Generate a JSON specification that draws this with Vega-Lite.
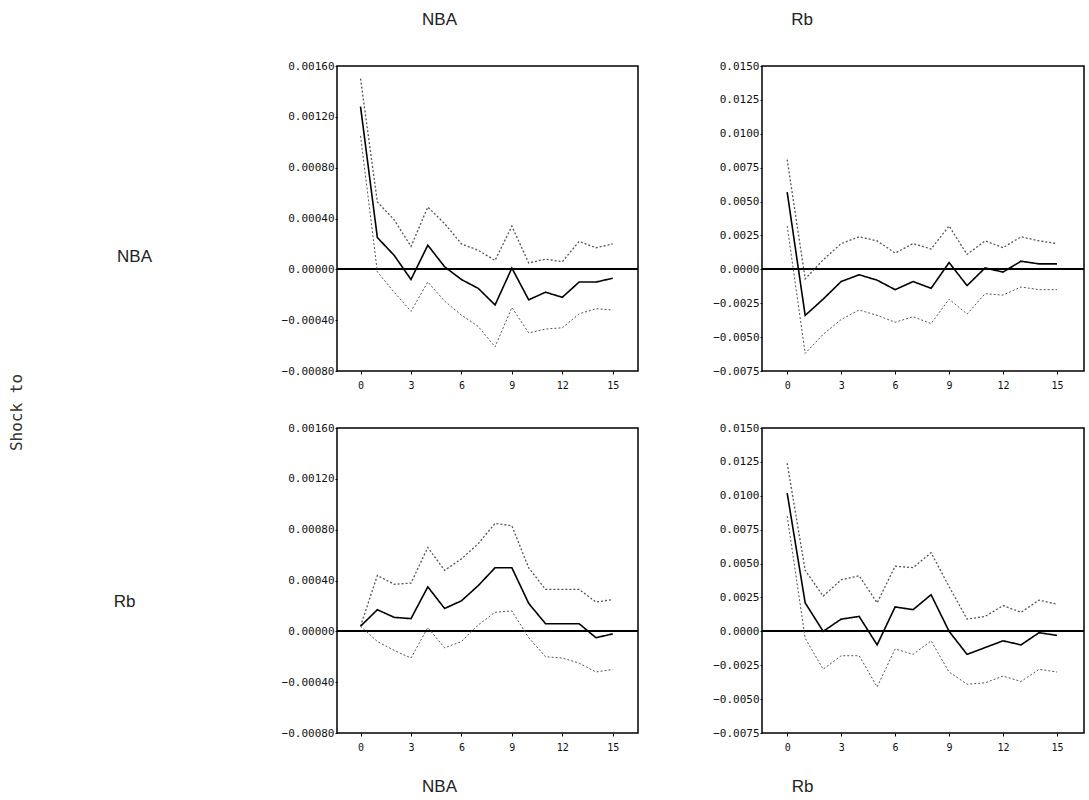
{
  "$schema": "https://vega.github.io/schema/vega-lite/v6.json",
  "background": "white",
  "autosize": {"type": "pad"},
  "padding": {"left": 9, "top": 10, "right": 0, "bottom": 0},
  "bounds": "flush",
  "columns": 2,
  "spacing": {"row": 57, "column": 124},
  "title": {"text": "Shock to", "orient": "left", "anchor": "middle", "offset": 87, "dx": -10, "font": "DejaVu Sans Mono", "fontSize": 16, "fontWeight": "normal", "color": "#333"},
  "config": {
    "view": {"stroke": "#000", "strokeWidth": 1.5},
    "axis": {"grid": false, "domain": false, "labelFont": "DejaVu Sans Mono", "labelFontSize": 11, "labelColor": "#111", "labelOverlap": false, "tickColor": "#000", "tickSize": 3, "titleFont": "Liberation Sans", "titleFontWeight": "normal", "titleFontSize": 17, "titleColor": "#222"},
    "title": {"font": "Liberation Sans", "fontSize": 17, "fontWeight": "normal", "color": "#222"}
  },
  "datasets": {
    "tl": [
      {"p": 0, "mid": 0.00128, "up": 0.00150, "lo": 0.00105},
      {"p": 1, "mid": 0.00025, "up": 0.00053, "lo": -0.00002},
      {"p": 2, "mid": 0.00011, "up": 0.00039, "lo": -0.00018},
      {"p": 3, "mid": -0.00008, "up": 0.00018, "lo": -0.00033},
      {"p": 4, "mid": 0.00019, "up": 0.00049, "lo": -0.00010},
      {"p": 5, "mid": 0.00002, "up": 0.00036, "lo": -0.00025},
      {"p": 6, "mid": -0.00008, "up": 0.00020, "lo": -0.00036},
      {"p": 7, "mid": -0.00015, "up": 0.00015, "lo": -0.00045},
      {"p": 8, "mid": -0.00028, "up": 0.00007, "lo": -0.00061},
      {"p": 9, "mid": 0.00001, "up": 0.00034, "lo": -0.00030},
      {"p": 10, "mid": -0.00024, "up": 0.00005, "lo": -0.00050},
      {"p": 11, "mid": -0.00018, "up": 0.00008, "lo": -0.00047},
      {"p": 12, "mid": -0.00022, "up": 0.00006, "lo": -0.00046},
      {"p": 13, "mid": -0.00010, "up": 0.00022, "lo": -0.00035},
      {"p": 14, "mid": -0.00010, "up": 0.00017, "lo": -0.00031},
      {"p": 15, "mid": -0.00007, "up": 0.00020, "lo": -0.00032}
    ],
    "tr": [
      {"p": 0, "mid": 0.0057, "up": 0.0081, "lo": 0.0032},
      {"p": 1, "mid": -0.0034, "up": -0.0007, "lo": -0.0062},
      {"p": 2, "mid": -0.0022, "up": 0.0007, "lo": -0.0048},
      {"p": 3, "mid": -0.0009, "up": 0.0019, "lo": -0.0037},
      {"p": 4, "mid": -0.0004, "up": 0.0024, "lo": -0.0030},
      {"p": 5, "mid": -0.0008, "up": 0.0021, "lo": -0.0034},
      {"p": 6, "mid": -0.0015, "up": 0.0012, "lo": -0.0039},
      {"p": 7, "mid": -0.0009, "up": 0.0019, "lo": -0.0035},
      {"p": 8, "mid": -0.0014, "up": 0.0015, "lo": -0.0040},
      {"p": 9, "mid": 0.0005, "up": 0.0032, "lo": -0.0022},
      {"p": 10, "mid": -0.0012, "up": 0.0011, "lo": -0.0033},
      {"p": 11, "mid": 0.0001, "up": 0.0021, "lo": -0.0018},
      {"p": 12, "mid": -0.0002, "up": 0.0016, "lo": -0.0019},
      {"p": 13, "mid": 0.0006, "up": 0.0024, "lo": -0.0013},
      {"p": 14, "mid": 0.0004, "up": 0.0021, "lo": -0.0015},
      {"p": 15, "mid": 0.0004, "up": 0.0019, "lo": -0.0015}
    ],
    "bl": [
      {"p": 0, "mid": 0.00004, "up": 0.00004, "lo": 0.00004},
      {"p": 1, "mid": 0.00017, "up": 0.00044, "lo": -0.00008},
      {"p": 2, "mid": 0.00011, "up": 0.00037, "lo": -0.00015},
      {"p": 3, "mid": 0.00010, "up": 0.00038, "lo": -0.00021},
      {"p": 4, "mid": 0.00035, "up": 0.00066, "lo": 0.00003},
      {"p": 5, "mid": 0.00018, "up": 0.00048, "lo": -0.00013},
      {"p": 6, "mid": 0.00024, "up": 0.00057, "lo": -0.00008},
      {"p": 7, "mid": 0.00036, "up": 0.00069, "lo": 0.00005},
      {"p": 8, "mid": 0.00050, "up": 0.00085, "lo": 0.00015},
      {"p": 9, "mid": 0.00050, "up": 0.00083, "lo": 0.00016},
      {"p": 10, "mid": 0.00022, "up": 0.00050, "lo": -0.00005},
      {"p": 11, "mid": 0.00006, "up": 0.00033, "lo": -0.00020},
      {"p": 12, "mid": 0.00006, "up": 0.00033, "lo": -0.00021},
      {"p": 13, "mid": 0.00006, "up": 0.00033, "lo": -0.00025},
      {"p": 14, "mid": -0.00005, "up": 0.00023, "lo": -0.00032},
      {"p": 15, "mid": -0.00002, "up": 0.00025, "lo": -0.00030}
    ],
    "br": [
      {"p": 0, "mid": 0.0102, "up": 0.0124, "lo": 0.0085},
      {"p": 1, "mid": 0.0021, "up": 0.0045, "lo": -0.0005},
      {"p": 2, "mid": 0.0000, "up": 0.0026, "lo": -0.0028},
      {"p": 3, "mid": 0.0009, "up": 0.0038, "lo": -0.0018},
      {"p": 4, "mid": 0.0011, "up": 0.0041, "lo": -0.0018},
      {"p": 5, "mid": -0.0010, "up": 0.0021, "lo": -0.0041},
      {"p": 6, "mid": 0.0018, "up": 0.0048, "lo": -0.0013},
      {"p": 7, "mid": 0.0016, "up": 0.0047, "lo": -0.0017},
      {"p": 8, "mid": 0.0027, "up": 0.0058, "lo": -0.0007},
      {"p": 9, "mid": 0.0000, "up": 0.0033, "lo": -0.0030},
      {"p": 10, "mid": -0.0017, "up": 0.0009, "lo": -0.0039},
      {"p": 11, "mid": -0.0012, "up": 0.0011, "lo": -0.0038},
      {"p": 12, "mid": -0.0007, "up": 0.0019, "lo": -0.0033},
      {"p": 13, "mid": -0.0010, "up": 0.0014, "lo": -0.0037},
      {"p": 14, "mid": -0.0001, "up": 0.0023, "lo": -0.0028},
      {"p": 15, "mid": -0.0003, "up": 0.0020, "lo": -0.0030}
    ]
  },
  "concat": [
    {
      "width": 301, "height": 305,
      "title": {"text": "NBA", "frame": "group", "offset": 31, "dx": -48},
      "data": {"name": "tl"},
      "layer": [
        {"mark": {"type": "rule", "color": "#000", "strokeWidth": 1.5}, "encoding": {"y": {"datum": 0, "type": "quantitative"}}},
        {
          "transform": [{"fold": ["up", "mid", "lo"], "as": ["s", "v"]}],
          "mark": {"type": "line"},
          "encoding": {
            "x": {"field": "p", "type": "quantitative", "scale": {"domain": [-1.4, 16.5], "nice": false, "zero": false}, "axis": {"values": [0, 3, 6, 9, 12, 15], "tickCount": 20, "format": "d", "title": null, "labelPadding": 6, "labelFontSize": 10, "labelOverlap": false}},
            "y": {"field": "v", "type": "quantitative", "scale": {"domain": [-0.0008, 0.0016], "nice": false, "zero": false}, "axis": {"values": [-0.0008, -0.0004, 0, 0.0004, 0.0008, 0.0012, 0.0016], "tickCount": 20, "format": ".5f", "title": "NBA", "titleAngle": 0, "titleX": -203, "titleY": 190, "titleAlign": "center", "titleBaseline": "middle", "labelPadding": 1, "tickSize": 2, "labelOverlap": false}},
            "detail": {"field": "s"},
            "color": {"field": "s", "type": "nominal", "scale": {"domain": ["mid", "up", "lo"], "range": ["#000000", "#555555", "#555555"]}, "legend": null},
            "strokeDash": {"field": "s", "type": "nominal", "scale": {"domain": ["mid", "up", "lo"], "range": [[1, 0], [2, 2], [2, 2]]}, "legend": null},
            "strokeWidth": {"field": "s", "type": "nominal", "scale": {"domain": ["mid", "up", "lo"], "range": [1.6, 1, 1]}, "legend": null}
          }
        }
      ]
    },
    {
      "width": 322, "height": 305,
      "title": {"text": "Rb", "frame": "group", "offset": 31, "dx": -121},
      "data": {"name": "tr"},
      "layer": [
        {"mark": {"type": "rule", "color": "#000", "strokeWidth": 1.5}, "encoding": {"y": {"datum": 0, "type": "quantitative"}}},
        {
          "transform": [{"fold": ["up", "mid", "lo"], "as": ["s", "v"]}],
          "mark": {"type": "line"},
          "encoding": {
            "x": {"field": "p", "type": "quantitative", "scale": {"domain": [-1.4, 16.5], "nice": false, "zero": false}, "axis": {"values": [0, 3, 6, 9, 12, 15], "tickCount": 20, "format": "d", "title": null, "labelPadding": 6, "labelFontSize": 10, "labelOverlap": false}},
            "y": {"field": "v", "type": "quantitative", "scale": {"domain": [-0.0075, 0.015], "nice": false, "zero": false}, "axis": {"values": [-0.0075, -0.005, -0.0025, 0, 0.0025, 0.005, 0.0075, 0.01, 0.0125, 0.015], "tickCount": 20, "format": ".4f", "title": null, "labelPadding": 1, "tickSize": 2, "labelOverlap": false}},
            "detail": {"field": "s"},
            "color": {"field": "s", "type": "nominal", "scale": {"domain": ["mid", "up", "lo"], "range": ["#000000", "#555555", "#555555"]}, "legend": null},
            "strokeDash": {"field": "s", "type": "nominal", "scale": {"domain": ["mid", "up", "lo"], "range": [[1, 0], [2, 2], [2, 2]]}, "legend": null},
            "strokeWidth": {"field": "s", "type": "nominal", "scale": {"domain": ["mid", "up", "lo"], "range": [1.6, 1, 1]}, "legend": null}
          }
        }
      ]
    },
    {
      "width": 301, "height": 305,
      "data": {"name": "bl"},
      "layer": [
        {"mark": {"type": "rule", "color": "#000", "strokeWidth": 1.5}, "encoding": {"y": {"datum": 0, "type": "quantitative"}}},
        {
          "transform": [{"fold": ["up", "mid", "lo"], "as": ["s", "v"]}],
          "mark": {"type": "line"},
          "encoding": {
            "x": {"field": "p", "type": "quantitative", "scale": {"domain": [-1.4, 16.5], "nice": false, "zero": false}, "axis": {"values": [0, 3, 6, 9, 12, 15], "tickCount": 20, "format": "d", "title": "NBA", "labelPadding": 6, "labelFontSize": 10, "labelOverlap": false, "titlePadding": 26, "titleX": 102, "titleAlign": "center"}},
            "y": {"field": "v", "type": "quantitative", "scale": {"domain": [-0.0008, 0.0016], "nice": false, "zero": false}, "axis": {"values": [-0.0008, -0.0004, 0, 0.0004, 0.0008, 0.0012, 0.0016], "tickCount": 20, "format": ".5f", "title": "Rb", "titleAngle": 0, "titleX": -213, "titleY": 173, "titleAlign": "center", "titleBaseline": "middle", "labelPadding": 1, "tickSize": 2, "labelOverlap": false}},
            "detail": {"field": "s"},
            "color": {"field": "s", "type": "nominal", "scale": {"domain": ["mid", "up", "lo"], "range": ["#000000", "#555555", "#555555"]}, "legend": null},
            "strokeDash": {"field": "s", "type": "nominal", "scale": {"domain": ["mid", "up", "lo"], "range": [[1, 0], [2, 2], [2, 2]]}, "legend": null},
            "strokeWidth": {"field": "s", "type": "nominal", "scale": {"domain": ["mid", "up", "lo"], "range": [1.6, 1, 1]}, "legend": null}
          }
        }
      ]
    },
    {
      "width": 322, "height": 305,
      "data": {"name": "br"},
      "layer": [
        {"mark": {"type": "rule", "color": "#000", "strokeWidth": 1.5}, "encoding": {"y": {"datum": 0, "type": "quantitative"}}},
        {
          "transform": [{"fold": ["up", "mid", "lo"], "as": ["s", "v"]}],
          "mark": {"type": "line"},
          "encoding": {
            "x": {"field": "p", "type": "quantitative", "scale": {"domain": [-1.4, 16.5], "nice": false, "zero": false}, "axis": {"values": [0, 3, 6, 9, 12, 15], "tickCount": 20, "format": "d", "title": "Rb", "labelPadding": 6, "labelFontSize": 10, "labelOverlap": false, "titlePadding": 26, "titleX": 40, "titleAlign": "center"}},
            "y": {"field": "v", "type": "quantitative", "scale": {"domain": [-0.0075, 0.015], "nice": false, "zero": false}, "axis": {"values": [-0.0075, -0.005, -0.0025, 0, 0.0025, 0.005, 0.0075, 0.01, 0.0125, 0.015], "tickCount": 20, "format": ".4f", "title": null, "labelPadding": 1, "tickSize": 2, "labelOverlap": false}},
            "detail": {"field": "s"},
            "color": {"field": "s", "type": "nominal", "scale": {"domain": ["mid", "up", "lo"], "range": ["#000000", "#555555", "#555555"]}, "legend": null},
            "strokeDash": {"field": "s", "type": "nominal", "scale": {"domain": ["mid", "up", "lo"], "range": [[1, 0], [2, 2], [2, 2]]}, "legend": null},
            "strokeWidth": {"field": "s", "type": "nominal", "scale": {"domain": ["mid", "up", "lo"], "range": [1.6, 1, 1]}, "legend": null}
          }
        }
      ]
    }
  ]
}
